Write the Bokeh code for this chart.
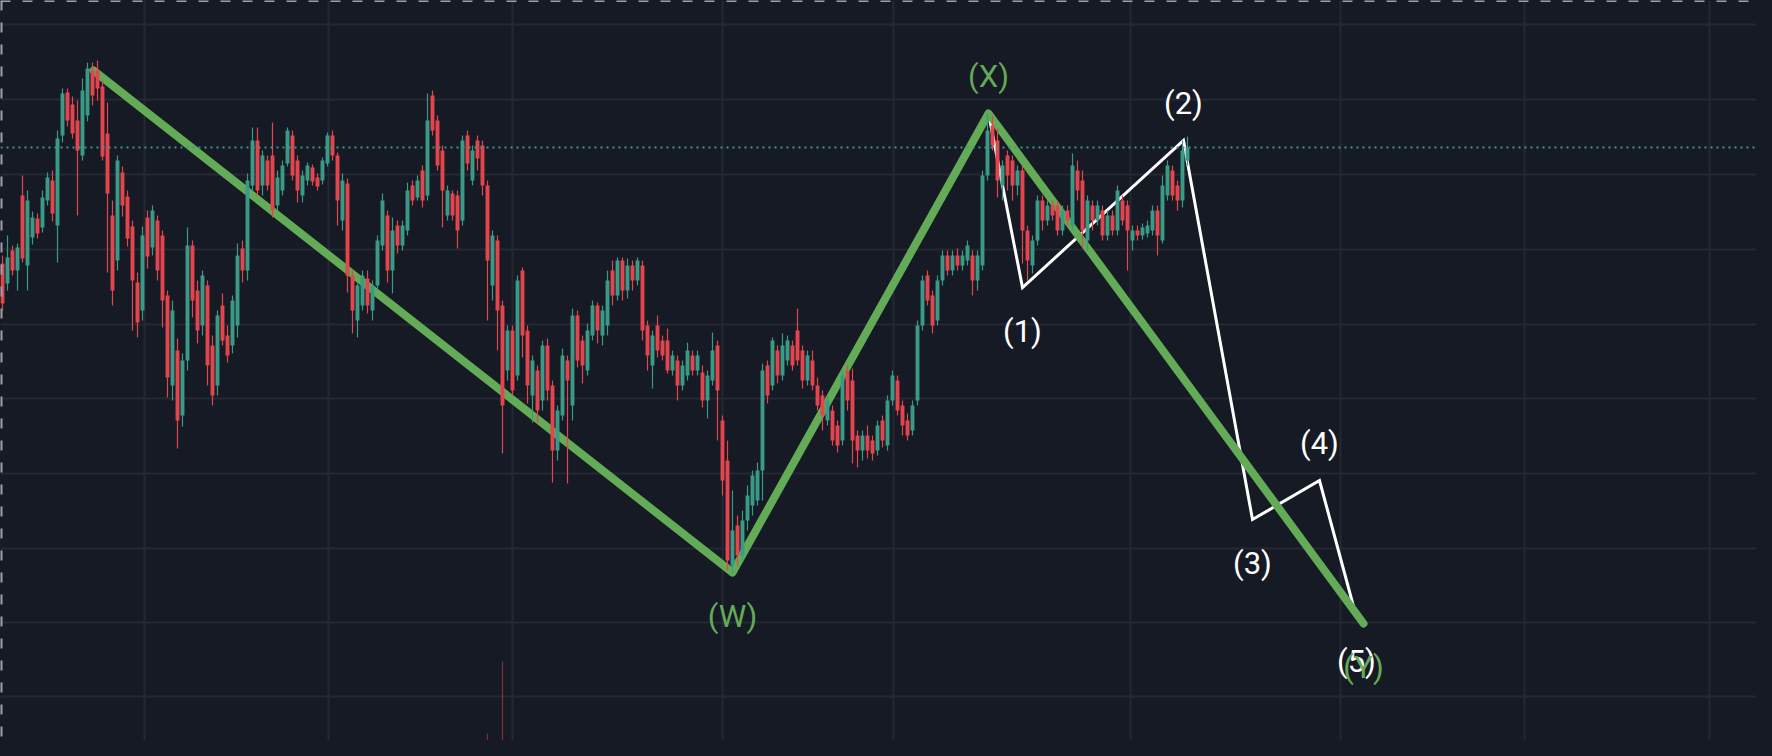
from bokeh.core.properties import value
from bokeh.embed import file_html
from bokeh.models import ColumnDataSource, FixedTicker, GlobalInlineStyleSheet, Range1d, Span
from bokeh.plotting import figure
from bokeh.resources import INLINE

# OHLC per bar (price units)
opens = [
    493, 473, 506, 486, 561, 491, 519, 538, 529, 556,
    576, 531, 621, 664, 652, 636, 601, 641, 686, 686,
    670, 623, 541, 496, 584, 560, 530, 474, 446, 539,
    509, 536, 521, 461, 371, 406, 341, 396, 511, 466,
    431, 471, 411, 371, 451, 421, 411, 431, 508, 486,
    571, 616, 571, 596, 601, 551, 566, 593, 621, 596,
    561, 576, 589, 579, 576, 593, 621, 601, 536, 573,
    481, 436, 451, 478, 446, 471, 511, 541, 486, 531,
    511, 526, 571, 559, 586, 561, 661, 636, 606, 541,
    563, 561, 536, 621, 576, 616, 611, 571, 471, 516,
    451, 386, 426, 381, 486, 426, 361, 386, 356, 411,
    371, 306, 341, 396, 351, 441, 416, 386, 421, 451,
    421, 431, 486, 461, 496, 466, 491, 476, 491, 431,
    391, 431, 416, 416, 386, 396, 371, 381, 401, 386,
    384, 356, 376, 411, 336, 296, 191, 231, 201, 236,
    251, 256, 286, 391, 371, 406, 381, 396, 411, 426,
    406, 376, 396, 371, 361, 336, 346, 331, 316, 386,
    376, 321, 306, 321, 316, 306, 336, 311, 356, 376,
    351, 336, 326, 356, 431, 481, 461, 436, 476, 501,
    486, 501, 491, 496, 501, 476, 491, 581, 631, 616,
    571, 601, 596, 571, 586, 526, 491, 516, 556, 536,
    551, 551, 526, 546, 531, 586, 576, 516, 551, 536,
    546, 521, 541, 526, 556, 551, 516, 526, 521, 523,
    526, 546, 516, 561, 586, 571, 556, 596,
]
highs = [
    501, 521, 511, 513, 581, 566, 545, 543, 566, 584,
    586, 626, 668, 668, 660, 656, 678, 694, 694, 696,
    676, 654, 556, 601, 590, 566, 536, 484, 530, 546,
    551, 541, 526, 466, 456, 418, 403, 529, 516, 476,
    486, 476, 421, 446, 463, 431, 461, 513, 516, 583,
    629, 629, 606, 601, 634, 586, 596, 629, 626, 601,
    586, 594, 592, 583, 599, 624, 626, 604, 583, 578,
    486, 473, 486, 486, 476, 521, 563, 546, 539, 536,
    536, 574, 576, 581, 591, 663, 666, 641, 611, 571,
    566, 566, 621, 626, 611, 621, 616, 576, 526, 521,
    456, 431, 431, 481, 489, 431, 401, 391, 416, 418,
    376, 351, 408, 401, 448, 446, 421, 433, 456, 454,
    451, 486, 496, 499, 499, 498, 496, 499, 496, 436,
    426, 441, 421, 428, 406, 401, 396, 414, 406, 406,
    391, 386, 424, 416, 341, 316, 266, 241, 246, 271,
    286, 294, 393, 396, 419, 411, 423, 421, 416, 448,
    411, 406, 406, 379, 366, 361, 351, 336, 386, 391,
    388, 326, 326, 331, 321, 336, 341, 361, 386, 381,
    356, 343, 356, 436, 481, 486, 466, 481, 506, 506,
    506, 508, 506, 516, 506, 506, 586, 643, 641, 628,
    596, 606, 601, 591, 591, 531, 521, 561, 561, 556,
    556, 556, 551, 551, 603, 596, 586, 561, 556, 556,
    551, 546, 546, 571, 561, 556, 531, 531, 533, 536,
    551, 551, 581, 596, 591, 576, 616, 620,
]
lows = [
    446, 466, 481, 466, 494, 466, 512, 518, 524, 551,
    535, 494, 614, 630, 618, 541, 596, 635, 651, 656,
    596, 484, 451, 486, 540, 510, 426, 419, 436, 488,
    501, 476, 429, 359, 356, 308, 330, 386, 439, 413,
    421, 371, 351, 361, 411, 394, 403, 419, 474, 476,
    566, 561, 561, 566, 539, 546, 561, 590, 576, 554,
    554, 571, 571, 566, 572, 590, 596, 531, 526, 464,
    423, 419, 446, 443, 436, 466, 506, 474, 463, 503,
    506, 521, 551, 556, 549, 556, 621, 586, 529, 536,
    536, 508, 531, 586, 571, 586, 561, 436, 456, 406,
    303, 376, 361, 376, 399, 353, 334, 333, 346, 356,
    274, 296, 336, 273, 336, 389, 373, 381, 416, 413,
    411, 421, 451, 456, 456, 458, 466, 471, 416, 386,
    368, 399, 396, 383, 381, 356, 366, 376, 381, 381,
    349, 338, 371, 316, 261, 186, 183, 191, 196, 226,
    241, 251, 256, 353, 366, 373, 376, 391, 386, 391,
    368, 371, 366, 346, 326, 331, 311, 304, 311, 346,
    293, 289, 296, 298, 296, 301, 309, 306, 351, 341,
    321, 316, 321, 351, 426, 451, 423, 431, 471, 481,
    481, 486, 486, 491, 461, 466, 486, 576, 606, 559,
    556, 566, 556, 561, 493, 476, 483, 511, 526, 531,
    536, 521, 521, 531, 526, 556, 509, 506, 526, 531,
    516, 516, 521, 521, 531, 486, 506, 516, 517, 519,
    521, 501, 513, 556, 556, 546, 549, 591,
]
closes = [
    453, 499, 486, 509, 498, 556, 539, 523, 559, 579,
    543, 618, 663, 636, 623, 606, 666, 688, 661, 668,
    600, 563, 466, 596, 551, 518, 476, 434, 521, 500,
    546, 486, 456, 379, 446, 336, 396, 511, 456, 426,
    481, 391, 361, 441, 416, 401, 456, 501, 486, 576,
    616, 566, 601, 571, 546, 579, 591, 626, 581, 566,
    581, 591, 575, 570, 596, 621, 601, 556, 576, 481,
    446, 471, 481, 451, 471, 516, 556, 486, 526, 511,
    531, 566, 556, 576, 556, 636, 626, 591, 566, 566,
    541, 526, 616, 593, 606, 598, 571, 496, 521, 446,
    351, 426, 366, 476, 421, 371, 396, 346, 411, 366,
    306, 346, 401, 376, 441, 396, 391, 426, 451, 426,
    446, 476, 461, 496, 466, 491, 476, 496, 426, 401,
    421, 406, 401, 386, 401, 371, 391, 406, 386, 401,
    356, 381, 406, 366, 276, 196, 226, 201, 236, 261,
    281, 286, 386, 361, 416, 381, 411, 416, 391, 396,
    376, 401, 371, 351, 341, 356, 316, 311, 381, 356,
    316, 306, 321, 306, 303, 331, 316, 356, 381, 346,
    331, 321, 351, 431, 476, 456, 431, 476, 501, 486,
    501, 491, 501, 511, 476, 501, 581, 626, 611, 576,
    591, 581, 571, 586, 526, 496, 516, 556, 536, 551,
    541, 526, 546, 536, 591, 566, 526, 556, 536, 551,
    521, 541, 526, 566, 536, 526, 526, 521, 529, 531,
    546, 521, 571, 591, 561, 556, 606, 609,
]

# volume spikes that show at the bottom (bar index, volume)
vol_idx = [4, 15, 20, 21, 22, 54, 97, 100]
vol = [30, 110, 40, 20, 30, 10, 230, 950]

# Elliott wave pivots (bar index, price)
wxy_x = [18.2, 146.0, 197.2, 272.2]
wxy_y = [686, 184, 643, 133]
wxy_labels = ["", "(W)", "(X)", "(Y)"]
imp_x = [197.2, 204.0, 236.2, 250.0, 263.4, 270.8]
imp_y = [643, 469, 616, 237, 276, 139]
imp_labels = ["", "(1)", "(2)", "(3)", "(4)", "(5)"]

# grid positions
grid_x = [28.4, 65.2, 102.0, 144.0, 178.2, 225.6, 267.6, 304.4, 341.4]
grid_y = [60, 134, 208, 283, 358, 432, 507, 582, 657, 732]

BG = "#161a25"
GRID = "#242835"
UP = "#3b9a85"
DOWN = "#e2454e"
GREEN = "#63ab56"
WHITE = "#ffffff"

idx = list(range(len(opens)))
colors = [UP if c >= o else DOWN for o, c in zip(opens, closes)]
candles = ColumnDataSource(dict(
    x=idx,
    top=[max(o, c) for o, c in zip(opens, closes)],
    bottom=[min(o, c) for o, c in zip(opens, closes)],
    high=highs,
    low=lows,
    color=colors,
))

p = figure(
    width=1756,
    height=740,
    x_range=Range1d(-0.4, 350.8),
    y_range=Range1d(16, 756),
    output_backend="svg",
    toolbar_location=None,
    min_border=0,
    background_fill_color=BG,
    border_fill_color=BG,
    outline_line_color=None,
)
p.stylesheets = [GlobalInlineStyleSheet(css="html, body { background: #161a25; }")]
p.xaxis.visible = False
p.yaxis.visible = False
p.xgrid.ticker = FixedTicker(ticks=grid_x)
p.ygrid.ticker = FixedTicker(ticks=grid_y)
p.grid.grid_line_color = GRID
p.grid.grid_line_width = 2

# wave lines
p.line(imp_x, imp_y, line_color=WHITE, line_width=3, line_join="miter")
p.line(wxy_x, wxy_y, line_color=GREEN, line_width=8, line_join="round", line_cap="round")

# volume
p.extra_y_ranges = {"vol": Range1d(160, 7560)}
p.vbar(x=vol_idx, width=0.25, top=vol, bottom=0, y_range_name="vol",
       fill_color=[colors[i] for i in vol_idx], fill_alpha=0.5, line_color=None)

# candles
p.segment(x0="x", y0="low", x1="x", y1="high", source=candles, line_color="color", line_width=1.2)
p.vbar(x="x", width=0.78, top="top", bottom="bottom", source=candles,
       fill_color="color", line_color=None)

# last price line and the dashed frame edges
p.add_layout(Span(location=closes[-1], dimension="width", line_color="#359c8a",
                  line_dash="2 4", line_width=2))
p.add_layout(Span(location=p.y_range.end, dimension="width", line_color="#9ea1aa",
                  line_dash="10 12", line_width=3))
p.add_layout(Span(location=p.x_range.start, dimension="height", line_color="#9ea1aa",
                  line_dash="10 12", line_width=4))


def label_offsets(ys):
    # peaks get the label above, troughs below
    return [-37 if ys[k] > ys[k - 1] else 44 for k in range(1, len(ys))]


p.text(x=imp_x[1:], y=imp_y[1:], text=imp_labels[1:], y_offset=label_offsets(imp_y),
       text_align="center", text_baseline="middle", text_color=WHITE,
       text_font=value("Roboto"), text_font_size="31px")
p.text(x=wxy_x[1:], y=wxy_y[1:], text=wxy_labels[1:], y_offset=label_offsets(wxy_y),
       text_align="center", text_baseline="middle", text_color=GREEN,
       text_font=value("Roboto"), text_font_size="31px")

open("out.html", "w").write(file_html(p, INLINE))
